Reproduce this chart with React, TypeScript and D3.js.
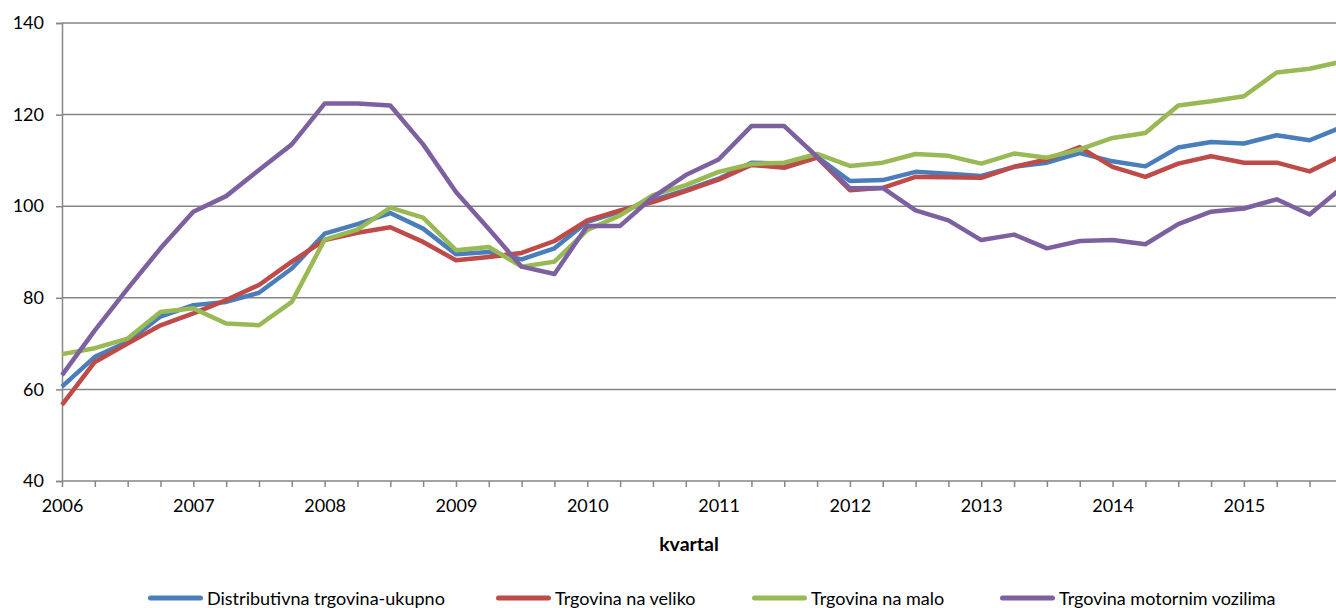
import React, { useEffect, useRef } from "react";
import * as d3 from "d3";

const years = ["2006", "2007", "2008", "2009", "2010", "2011", "2012", "2013", "2014", "2015"];
const yTicks = [40, 60, 80, 100, 120, 140];

const ukupno = [
  60.6, 67.1, 70.4, 75.9, 78.4, 79.1, 81.1, 86.4, 94.0, 96.1, 98.5, 95.1,
  89.5, 90.0, 88.4, 90.8, 96.6, 98.8, 101.3, 103.5, 106.0, 109.5, 109.3, 110.8,
  105.5, 105.7, 107.5, 107.1, 106.6, 108.6, 109.5, 111.6, 109.8, 108.7, 112.8, 114.0,
  113.7, 115.5, 114.4, 117.3,
];
const naVeliko = [
  56.6, 66.0, 70.0, 74.0, 76.6, 79.5, 82.8, 87.9, 92.6, 94.2, 95.4, 92.2,
  88.2, 88.9, 89.8, 92.4, 96.9, 99.1, 100.9, 103.3, 105.8, 109.0, 108.4, 110.6,
  103.5, 104.0, 106.4, 106.3, 106.2, 108.6, 110.2, 112.9, 108.6, 106.4, 109.3, 110.9,
  109.5, 109.5, 107.6, 111.1,
];
const naMalo = [
  67.7, 69.0, 71.1, 76.9, 77.7, 74.4, 74.0, 79.1, 92.7, 94.9, 99.7, 97.5,
  90.4, 91.1, 86.8, 87.9, 94.8, 98.0, 102.4, 104.6, 107.5, 109.2, 109.5, 111.4,
  108.8, 109.5, 111.4, 111.0, 109.3, 111.5, 110.6, 112.4, 114.9, 116.0, 122.0, 122.9,
  124.0, 129.2, 130.0, 131.6,
];
const motornim = [
  63.1, 72.9, 82.0, 90.8, 98.8, 102.2, 107.9, 113.5, 122.4, 122.4, 122.0, 113.5,
  103.1, 95.0, 86.8, 85.2, 95.7, 95.7, 102.0, 106.8, 110.2, 117.5, 117.5, 110.8,
  103.9, 104.0, 99.1, 96.9, 92.6, 93.8, 90.8, 92.4, 92.6, 91.7, 96.1, 98.8,
  99.5, 101.5, 98.2, 104.1,
];

const series = [
  { name: "Distributivna trgovina-ukupno", values: ukupno, color: "#4a7ebb" },
  { name: "Trgovina na veliko", values: naVeliko, color: "#be4b48" },
  { name: "Trgovina na malo", values: naMalo, color: "#98b954" },
  { name: "Trgovina motornim vozilima", values: motornim, color: "#7d60a0" },
];

const legendX = [148, 496, 752, 1000];

export default function App() {
  const svgRef = useRef<SVGSVGElement>(null);

  useEffect(() => {
    const svg = d3.select(svgRef.current);
    svg.selectAll("*").remove();

    const width = 1336;
    const margin = { top: 23, left: 62, bottom: 481 };
    const n = ukupno.length;
    const step = 32.83;

    const x = d3.scaleLinear().domain([0, n - 1]).range([margin.left, margin.left + step * (n - 1)]);
    const y = d3.scaleLinear().domain([40, 140]).range([margin.bottom, margin.top]);
    const font = "Lato, 'Open Sans', sans-serif";

    // gridlines
    svg
      .append("g")
      .selectAll("line")
      .data(yTicks.slice(1))
      .join("line")
      .attr("x1", margin.left)
      .attr("x2", width + 10)
      .attr("y1", (d) => y(d))
      .attr("y2", (d) => y(d))
      .attr("stroke", "#868686")
      .attr("stroke-width", 1.5);

    const yAxis = svg
      .append("g")
      .attr("transform", `translate(${margin.left},0)`)
      .call(d3.axisLeft(y).tickValues(yTicks).tickSize(6).tickPadding(12));
    yAxis.select(".domain").attr("stroke", "#868686").attr("stroke-width", 1.5);
    yAxis.selectAll(".tick line").attr("stroke", "#868686").attr("stroke-width", 1.5);
    yAxis.selectAll("text").attr("font-family", font).attr("font-size", 18).attr("fill", "#000");

    const xAxis = svg
      .append("g")
      .attr("transform", `translate(0,${margin.bottom})`)
      .call(
        d3
          .axisBottom(x)
          .tickValues(d3.range(0, n + 1))
          .tickSize(6)
          .tickPadding(12)
          .tickFormat((d) => ((d as number) % 4 === 0 && (d as number) / 4 < years.length ? years[(d as number) / 4] : ""))
      );
    xAxis.select(".domain").remove();
    xAxis
      .append("line")
      .attr("x1", margin.left)
      .attr("x2", width + 10)
      .attr("stroke", "#868686")
      .attr("stroke-width", 1.5);
    xAxis.selectAll(".tick line").attr("stroke", "#868686").attr("stroke-width", 1.5);
    xAxis.selectAll("text").attr("font-family", font).attr("font-size", 18).attr("fill", "#000");

    svg
      .append("text")
      .attr("x", 689)
      .attr("y", 551)
      .attr("text-anchor", "middle")
      .attr("font-family", font)
      .attr("font-weight", "bold")
      .attr("font-size", 19.5)
      .text("kvartal");

    const line = d3
      .line<number>()
      .x((_, i) => x(i))
      .y((d) => y(d));

    svg
      .append("g")
      .selectAll("path")
      .data(series)
      .join("path")
      .attr("d", (d) => line(d.values))
      .attr("fill", "none")
      .attr("stroke", (d) => d.color)
      .attr("stroke-width", 4.5)
      .attr("stroke-linejoin", "round");

    const legend = svg
      .append("g")
      .selectAll("g")
      .data(series)
      .join("g")
      .attr("transform", (_, i) => `translate(${legendX[i]},598)`);
    legend
      .append("line")
      .attr("x1", 2.5)
      .attr("x2", 52.5)
      .attr("stroke", (d) => d.color)
      .attr("stroke-width", 5)
      .attr("stroke-linecap", "round");
    legend
      .append("text")
      .attr("x", 59)
      .attr("y", 7)
      .attr("font-family", font)
      .attr("font-size", 18)
      .text((d) => d.name);
  }, []);

  return (
    <>
      <style>{"body{margin:0;overflow:hidden}"}</style>
      <svg ref={svgRef} width={1336} height={608} style={{ display: "block" }}></svg>
    </>
  );
}
